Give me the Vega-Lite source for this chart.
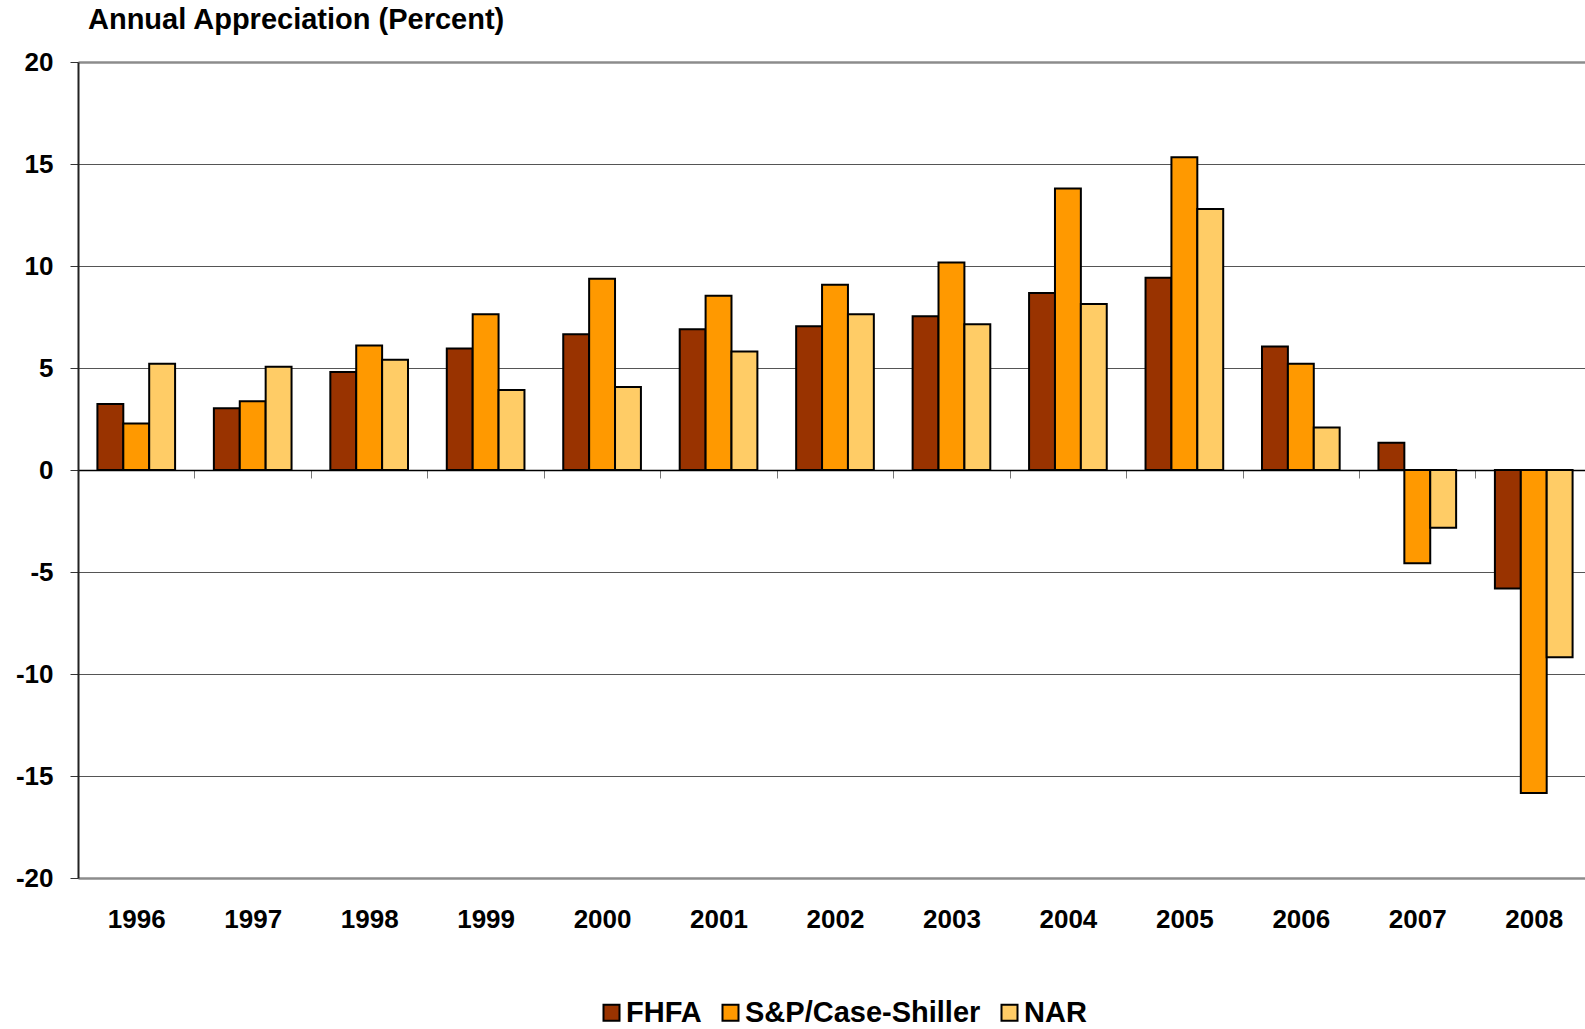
{
  "$schema": "https://vega.github.io/schema/vega-lite/v6.json",
  "width": 1507,
  "height": 816,
  "autosize": {"type": "none"},
  "padding": {"left": 78, "top": 62, "right": 0, "bottom": 151},
  "background": "white",
  "config": {"view": {"stroke": null}, "font": "Liberation Sans"},
  "title": {
    "text": "Annual Appreciation (Percent)",
    "anchor": "start",
    "frame": "group",
    "dx": 10,
    "dy": 31,
    "fontSize": 29,
    "font": "Liberation Sans",
    "fontWeight": "bold",
    "color": "black",
    "baseline": "alphabetic",
    "offset": 22
  },
  "data": {
    "values": [
      {"year": "1996", "series": "FHFA", "value": 3.23},
      {"year": "1996", "series": "S&P/Case-Shiller", "value": 2.28},
      {"year": "1996", "series": "NAR", "value": 5.21},
      {"year": "1997", "series": "FHFA", "value": 3.03},
      {"year": "1997", "series": "S&P/Case-Shiller", "value": 3.37},
      {"year": "1997", "series": "NAR", "value": 5.06},
      {"year": "1998", "series": "FHFA", "value": 4.81},
      {"year": "1998", "series": "S&P/Case-Shiller", "value": 6.1},
      {"year": "1998", "series": "NAR", "value": 5.41},
      {"year": "1999", "series": "FHFA", "value": 5.96},
      {"year": "1999", "series": "S&P/Case-Shiller", "value": 7.64},
      {"year": "1999", "series": "NAR", "value": 3.92},
      {"year": "2000", "series": "FHFA", "value": 6.65},
      {"year": "2000", "series": "S&P/Case-Shiller", "value": 9.38},
      {"year": "2000", "series": "NAR", "value": 4.07},
      {"year": "2001", "series": "FHFA", "value": 6.9},
      {"year": "2001", "series": "S&P/Case-Shiller", "value": 8.54},
      {"year": "2001", "series": "NAR", "value": 5.81},
      {"year": "2002", "series": "FHFA", "value": 7.05},
      {"year": "2002", "series": "S&P/Case-Shiller", "value": 9.08},
      {"year": "2002", "series": "NAR", "value": 7.64},
      {"year": "2003", "series": "FHFA", "value": 7.54},
      {"year": "2003", "series": "S&P/Case-Shiller", "value": 10.17},
      {"year": "2003", "series": "NAR", "value": 7.15},
      {"year": "2004", "series": "FHFA", "value": 8.68},
      {"year": "2004", "series": "S&P/Case-Shiller", "value": 13.8},
      {"year": "2004", "series": "NAR", "value": 8.14},
      {"year": "2005", "series": "FHFA", "value": 9.43},
      {"year": "2005", "series": "S&P/Case-Shiller", "value": 15.33},
      {"year": "2005", "series": "NAR", "value": 12.8},
      {"year": "2006", "series": "FHFA", "value": 6.05},
      {"year": "2006", "series": "S&P/Case-Shiller", "value": 5.21},
      {"year": "2006", "series": "NAR", "value": 2.08},
      {"year": "2007", "series": "FHFA", "value": 1.34},
      {"year": "2007", "series": "S&P/Case-Shiller", "value": -4.57},
      {"year": "2007", "series": "NAR", "value": -2.83},
      {"year": "2008", "series": "FHFA", "value": -5.81},
      {"year": "2008", "series": "S&P/Case-Shiller", "value": -15.83},
      {"year": "2008", "series": "NAR", "value": -9.18}
    ]
  },
  "mark": {"type": "bar", "stroke": "black", "strokeWidth": 2},
  "encoding": {
    "x": {
      "field": "year",
      "type": "nominal",
      "title": null,
      "scale": {"range": [0, 1514], "paddingInner": 0.333, "paddingOuter": 0.1667},
      "axis": {
        "orient": "bottom",
        "offset": -408,
        "domain": true,
        "domainColor": "black",
        "domainWidth": 1.5,
        "ticks": true,
        "tickOffset": 58.2,
        "tickSize": 8,
        "tickColor": "#777",
        "tickWidth": 1,
        "labelOffset": -58.2,
        "labelPadding": 428,
        "labelAngle": 0,
        "labelFont": "Liberation Sans",
        "labelFontSize": 26,
        "labelFontWeight": "bold",
        "labelColor": "black",
        "grid": false
      }
    },
    "xOffset": {
      "field": "series",
      "type": "nominal",
      "sort": ["FHFA", "S&P/Case-Shiller", "NAR"],
      "scale": {"paddingInner": 0, "paddingOuter": 0}
    },
    "y": {
      "field": "value",
      "type": "quantitative",
      "title": null,
      "scale": {"domain": [-20, 20], "nice": false, "zero": false},
      "axis": {
        "values": [-20, -15, -10, -5, 0, 5, 10, 15, 20],
        "labelExpr": "datum.value + ''",
        "domain": true,
        "domainColor": "#222",
        "domainWidth": 2,
        "ticks": true,
        "tickSize": 8,
        "tickColor": "#333",
        "labelPadding": 17,
        "labelFont": "Liberation Sans",
        "labelFontSize": 26,
        "labelFontWeight": "bold",
        "labelColor": "black",
        "grid": true,
        "gridColor": {"condition": {"test": "abs(datum.value) == 20", "value": "#8c8c8c"}, "value": "#555555"},
        "gridWidth": {"condition": {"test": "abs(datum.value) == 20", "value": 2.5}, "value": 1}
      }
    },
    "color": {
      "field": "series",
      "type": "nominal",
      "sort": ["FHFA", "S&P/Case-Shiller", "NAR"],
      "scale": {"domain": ["FHFA", "S&P/Case-Shiller", "NAR"], "range": ["#993300", "#FF9900", "#FFCC66"]},
      "legend": {
        "title": null,
        "orient": "none",
        "legendX": 519,
        "legendY": 936,
        "direction": "horizontal",
        "symbolType": "square",
        "symbolSize": 256,
        "symbolStrokeColor": "black",
        "symbolStrokeWidth": 2,
        "symbolOpacity": 1,
        "labelFont": "Liberation Sans",
        "labelFontSize": 29,
        "labelFontWeight": "bold",
        "labelColor": "black",
        "labelOffset": 0,
        "columnPadding": 14,
        "labelLimit": 0
      }
    }
  }
}
